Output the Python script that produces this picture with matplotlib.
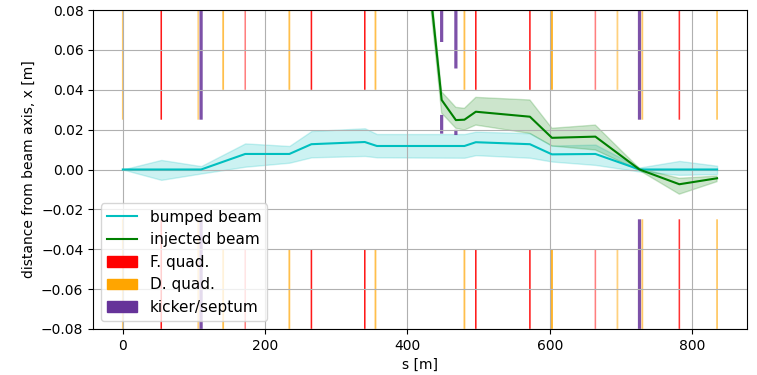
import matplotlib.pyplot as plt
from matplotlib.patches import Patch
from matplotlib.lines import Line2D

# ======================== data
# bumped (circulating) beam: centroid and envelope
s_bump = [0, 54, 110, 172, 234, 265, 340, 357, 480, 496, 572, 603, 664, 726, 782, 835]
x_bump = [0.0, 0.0, 0.0, 0.0078, 0.0078, 0.0127, 0.0138, 0.0118, 0.0118, 0.0137,
          0.0127, 0.0076, 0.0078, 0.0, 0.0, 0.0]
hi_bump = [0.0, 0.0048, 0.0017, 0.0131, 0.0118, 0.0193, 0.0207, 0.0178, 0.0178, 0.0190,
           0.0182, 0.0120, 0.0125, 0.0010, 0.0043, 0.0019]
lo_bump = [0.0, -0.0052, -0.0020, 0.0014, 0.0034, 0.0061, 0.0068, 0.0061, 0.0059, 0.0072,
           0.0059, 0.0040, 0.0023, -0.0010, -0.0027, -0.0023]

# injected beam
s_inj = [357, 448, 468, 480, 496, 572, 603, 664, 726, 782, 835]
x_inj = [0.348, 0.0349, 0.0248, 0.0250, 0.0290, 0.0265, 0.0159, 0.0165, 0.0, -0.0074, -0.0044]
hi_inj = [0.352, 0.0390, 0.0312, 0.0307, 0.0362, 0.0349, 0.0207, 0.0223, 0.0005, -0.0044, -0.0033]
lo_inj = [0.344, 0.0283, 0.0207, 0.0198, 0.0223, 0.0181, 0.0118, 0.0098, -0.0005, -0.0124, -0.0061]

# magnets: position, aperture, relative strength
fquad_s = [54, 172, 265, 340, 496, 572, 664, 782]
fquad_ap = [0.025, 0.04, 0.04, 0.04, 0.04, 0.04, 0.04, 0.025]
fquad_k = [0.9, 0.5, 0.9, 0.9, 0.9, 0.9, 0.5, 0.8]

dquad_s = [0, 106, 141, 234, 355, 480, 603, 695, 730, 835]
dquad_ap = [0.025, 0.025, 0.04, 0.04, 0.04, 0.04, 0.04, 0.04, 0.025, 0.025]
dquad_k = [0.6, 0.5, 0.7, 0.7, 0.7, 0.7, 0.9, 0.5, 0.6, 0.6]

kick_s = [110, 110, 448, 448, 468, 468, 726, 726]
kick_lo = [0.025, -0.08, 0.064, 0.018, 0.0507, 0.0173, 0.025, -0.08]
kick_hi = [0.08, -0.025, 0.08, 0.0274, 0.08, 0.0199, 0.08, -0.025]
# ======================== data END

fig = plt.figure(figsize=(7.57, 3.75), dpi=100)
ax = fig.add_subplot(1, 1, 1)
fig.subplots_adjust(left=0.123, right=0.9865, top=0.973, bottom=0.123)


def magnets(s, ap, k, color, width):
    for si, a, ki in zip(s, ap, k):
        for b in (a, -0.08):
            ax.bar(si, 0.08 - a, bottom=b, width=width, color=color, alpha=ki,
                   linewidth=0, edgecolor='none', snap=False, zorder=1.5)


magnets(fquad_s, fquad_ap, fquad_k, 'red', 2.2)
magnets(dquad_s, dquad_ap, dquad_k, 'orange', 2.5)
for si, lo, hi in zip(kick_s, kick_lo, kick_hi):
    ax.bar(si, hi - lo, bottom=lo, width=4.5, color='rebeccapurple', alpha=0.85,
           linewidth=0, edgecolor='none', snap=False, zorder=1.5)

ax.fill_between(s_bump, lo_bump, hi_bump, color='c', alpha=0.2)
ax.plot(s_bump, x_bump, color='c', lw=1.5)
ax.fill_between(s_inj, lo_inj, hi_inj, color='green', alpha=0.2)
ax.plot(s_inj, x_inj, color='green', lw=1.5)

ax.set_xlim(-41.75, 876.75)
ax.set_ylim(-0.08, 0.08)
ax.grid(True)
ax.set_xlabel("s [m]")
ax.set_ylabel("distance from beam axis, x [m]")

handles = [Line2D([], [], color='c', lw=1.5), Line2D([], [], color='green', lw=1.5),
           Patch(color='red'), Patch(color='orange'), Patch(color='rebeccapurple')]
labels = ["bumped beam", "injected beam", "F. quad.", "D. quad.", "kicker/septum"]
ax.legend(handles, labels, loc='lower left', fontsize=11)

fig.savefig("out.png", dpi=100)
